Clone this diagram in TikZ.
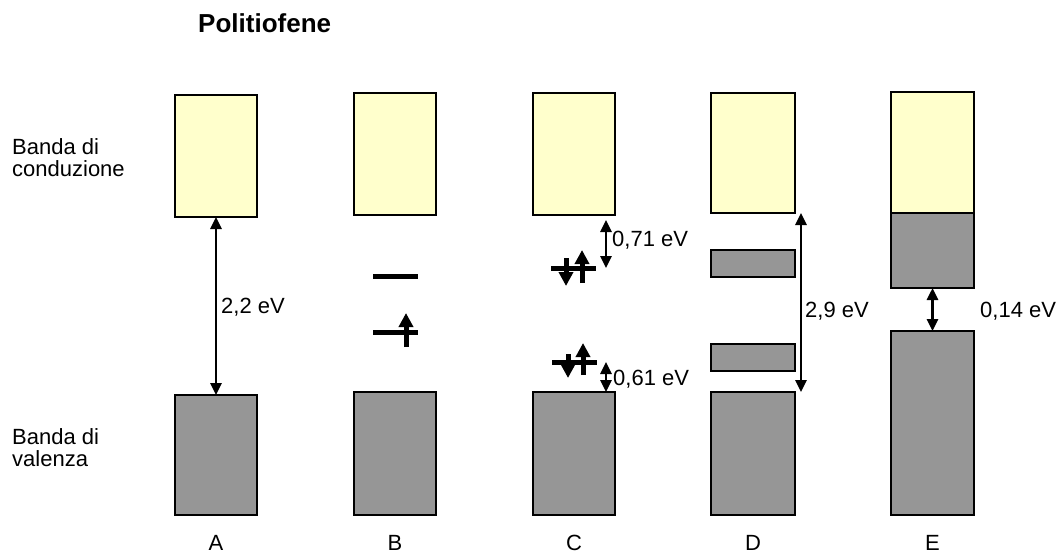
\documentclass[tikz,border=0pt]{standalone}
\usepackage{fontspec}
\setmainfont{Liberation Sans}
\usetikzlibrary{arrows.meta}
\definecolor{cbfill}{HTML}{FFFFCC}
\definecolor{vbfill}{HTML}{969696}
\begin{document}
\begin{tikzpicture}[x=1pt,y=-1pt,
  band/.style={draw=black, line width=2pt, inner sep=0pt, outer sep=0pt, anchor=north west},
  cband/.style={band, fill=cbfill},
  vband/.style={band, fill=vbfill},
  gaparrow/.style={line width=2.6pt, {Triangle[width=11pt,length=12pt]}-{Triangle[width=11pt,length=12pt]}},
  spinarrow/.style={line width=5pt, -{Triangle[width=14pt,length=14pt]}},
  levelline/.style={line width=5pt},
  lbl/.style={font=\fontsize{22}{22.5}\selectfont, inner sep=0pt, anchor=base west},
  sidelbl/.style={font=\fontsize{22}{22.5}\selectfont, inner sep=0pt, anchor=north west, align=left},
  collbl/.style={font=\fontsize{22}{22.5}\selectfont, inner sep=0pt, anchor=base}]
\useasboundingbox (0,0) rectangle (1056,554);

% title and side labels
\node[inner sep=0pt, anchor=base west, font=\bfseries\fontsize{26}{28}\selectfont] (title) at (198,32) {Politiofene};
\node[sidelbl] (cbname) at (12,138) {Banda di\\conduzione};
\node[sidelbl] (vbname) at (12,428) {Banda di\\valenza};

% A
\node[cband, minimum width=82pt, minimum height=122pt] (cA) at (175,95) {};
\node[vband, minimum width=82pt, minimum height=120pt] (vA) at (175,395) {};
% B
\node[cband, minimum width=82pt, minimum height=122pt] (cB) at (354,93) {};
\node[vband, minimum width=82pt, minimum height=123pt] (vB) at (354,392) {};
% C
\node[cband, minimum width=82pt, minimum height=122pt] (cC) at (533,93) {};
\node[vband, minimum width=82pt, minimum height=123pt] (vC) at (533,392) {};
% D
\node[cband, minimum width=84pt, minimum height=120pt] (cD) at (711,93) {};
\node[vband, minimum width=84pt, minimum height=27pt] (dU) at (711,250) {};
\node[vband, minimum width=84pt, minimum height=27pt] (dL) at (711,344) {};
\node[vband, minimum width=84pt, minimum height=123pt] (vD) at (711,392) {};
% E
\node[cband, minimum width=83pt, minimum height=121pt] (cE) at (891,92) {};
\node[vband, minimum width=83pt, minimum height=75pt] (mE) at (891,213) {};
\node[vband, minimum width=83pt, minimum height=184pt] (vE) at (891,331) {};

% gap arrows
\draw[gaparrow] (cA.south) -- (vA.north);
\node[lbl] (gA) at (221,313) {2,2 eV};

\coordinate (c71top) at (606,220);
\coordinate (c71bot) at (606,268);
\draw[gaparrow] (c71top) -- (c71bot);
\node[lbl] (gC1) at (612,246) {0,71 eV};

\coordinate (c61top) at (606,362);
\draw[gaparrow] (c61top) -- ([xshift=-9pt]vC.north east);
\node[lbl] (gC2) at (613,385) {0,61 eV};

\draw[gaparrow] ([xshift=6pt]cD.south east) -- ([xshift=6pt]vD.north east);
\node[lbl] (gD) at (805,317) {2,9 eV};

\draw[gaparrow] (mE.south) -- (vE.north);
\node[lbl] (gE) at (980,317) {0,14 eV};

% B levels
\draw[levelline] (373,276) -- (418,276);
\draw[levelline] (373,332) -- (418,332);
\draw[spinarrow] (406,347) -- (406,313);

% C levels
\draw[levelline] (551,268) -- (596,268);
\draw[spinarrow] (566,258) -- (566,286);
\draw[spinarrow] (582,283) -- (582,250);
\draw[levelline] (552,362) -- (597,362);
\draw[spinarrow] (568,354) -- (568,378);
\draw[spinarrow] (583,375) -- (583,343);

% column letters
\node[collbl] (lA) at (216,550) {A};
\node[collbl] (lB) at (395,550) {B};
\node[collbl] (lC) at (574,550) {C};
\node[collbl] (lD) at (753,550) {D};
\node[collbl] (lE) at (932.5,550) {E};
\end{tikzpicture}
\end{document}
